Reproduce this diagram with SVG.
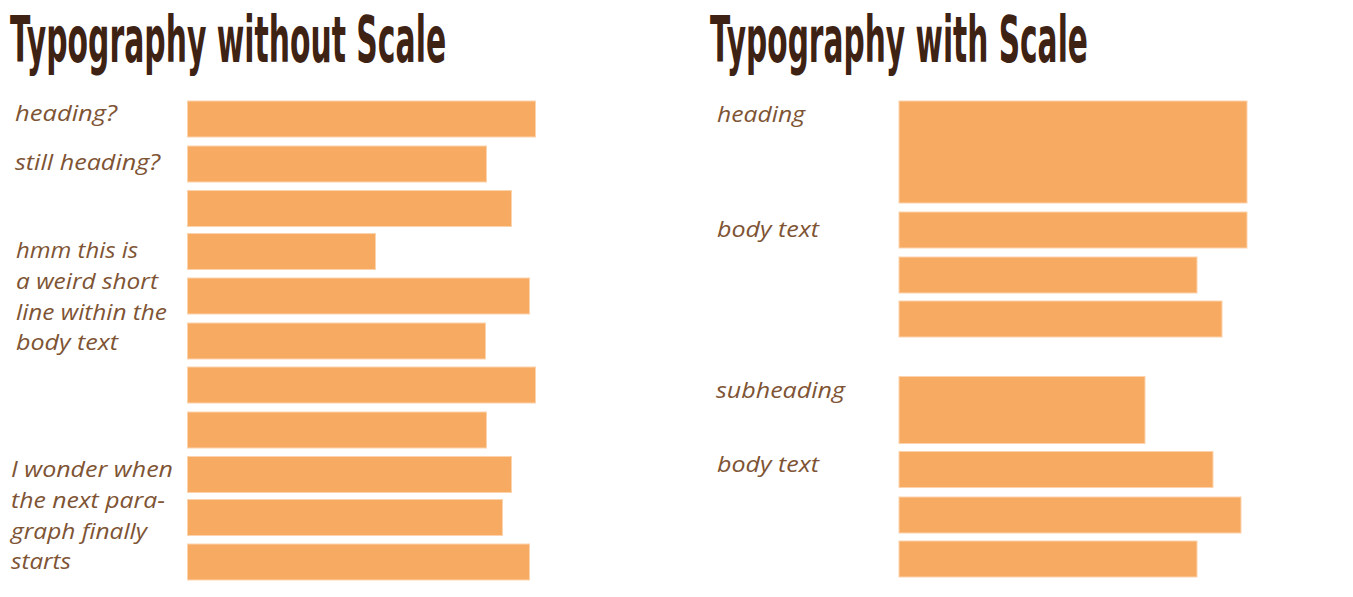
<svg xmlns="http://www.w3.org/2000/svg" width="1353" height="597" viewBox="0 0 1353 597">
<style>
.title{font-family:"DejaVu Sans","Liberation Sans",sans-serif;font-weight:bold;font-size:64px;fill:#3E2314}
.lbl{font-family:"Open Sans","Liberation Sans",sans-serif;font-style:italic;font-size:22px;fill:#7E5434}
.bar{fill:#F7AB62;stroke:#FBD3AC;stroke-width:1}
</style>
<rect width="1353" height="597" fill="#FFFFFF"/>
<g id="title-left"><text class="title" transform="translate(10,62) scale(0.462,1)" x="0" y="0" textLength="944" lengthAdjust="spacingAndGlyphs">Typography without Scale</text></g>
<g id="title-right"><text class="title" transform="translate(710,62) scale(0.462,1)" x="0" y="0" textLength="818" lengthAdjust="spacingAndGlyphs">Typography with Scale</text></g>

<g id="left-labels">
<g id="lbl-heading-q"><text class="lbl" x="15" y="121" textLength="102" lengthAdjust="spacingAndGlyphs">heading?</text></g>
<g id="lbl-still"><text class="lbl" x="15" y="170" textLength="145" lengthAdjust="spacingAndGlyphs">still heading?</text></g>
<g id="lbl-hmm">
<text class="lbl" x="16" y="258" textLength="122" lengthAdjust="spacingAndGlyphs">hmm this is</text>
<text class="lbl" x="16" y="289" textLength="142" lengthAdjust="spacingAndGlyphs">a weird short</text>
<text class="lbl" x="16" y="320" textLength="151" lengthAdjust="spacingAndGlyphs">line within the</text>
<text class="lbl" x="16" y="349.5" textLength="102" lengthAdjust="spacingAndGlyphs">body text</text>
</g>
<g id="lbl-wonder">
<text class="lbl" x="11" y="477" textLength="162" lengthAdjust="spacingAndGlyphs">I wonder when</text>
<text class="lbl" x="11" y="508" textLength="154" lengthAdjust="spacingAndGlyphs">the next para-</text>
<text class="lbl" x="11" y="538.5" textLength="136" lengthAdjust="spacingAndGlyphs">graph finally</text>
<text class="lbl" x="11" y="569" textLength="60" lengthAdjust="spacingAndGlyphs">starts</text>
</g>
</g>

<g id="left-bars">
<g id="lb1"><rect class="bar" x="187.5" y="101" width="348" height="36"/></g>
<g id="lb2"><rect class="bar" x="187.5" y="146" width="299" height="36"/></g>
<g id="lb3"><rect class="bar" x="187.5" y="190.5" width="324" height="36"/></g>
<g id="lb4"><rect class="bar" x="187.5" y="233.5" width="188" height="36"/></g>
<g id="lb5"><rect class="bar" x="187.5" y="278" width="342" height="36"/></g>
<g id="lb6"><rect class="bar" x="187.5" y="323" width="298" height="36"/></g>
<g id="lb7"><rect class="bar" x="187.5" y="367" width="348" height="36"/></g>
<g id="lb8"><rect class="bar" x="187.5" y="412" width="299" height="36"/></g>
<g id="lb9"><rect class="bar" x="187.5" y="456.5" width="324" height="36"/></g>
<g id="lb10"><rect class="bar" x="187.5" y="499.5" width="315" height="36"/></g>
<g id="lb11"><rect class="bar" x="187.5" y="544" width="342" height="36"/></g>
</g>

<g id="right-labels">
<g id="lbl-heading"><text class="lbl" x="717" y="121.5" textLength="88" lengthAdjust="spacingAndGlyphs">heading</text></g>
<g id="lbl-body1"><text class="lbl" x="717" y="236.5" textLength="102" lengthAdjust="spacingAndGlyphs">body text</text></g>
<g id="lbl-subheading"><text class="lbl" x="716" y="398" textLength="129" lengthAdjust="spacingAndGlyphs">subheading</text></g>
<g id="lbl-body2"><text class="lbl" x="717" y="471.5" textLength="102" lengthAdjust="spacingAndGlyphs">body text</text></g>
</g>

<g id="right-bars">
<g id="rb1"><rect class="bar" x="899" y="101" width="348" height="102"/></g>
<g id="rb2"><rect class="bar" x="899" y="212" width="348" height="36"/></g>
<g id="rb3"><rect class="bar" x="899" y="257" width="298" height="36"/></g>
<g id="rb4"><rect class="bar" x="899" y="301" width="323" height="36"/></g>
<g id="rb5"><rect class="bar" x="899" y="376.5" width="246" height="67"/></g>
<g id="rb6"><rect class="bar" x="899" y="451.5" width="314" height="36"/></g>
<g id="rb7"><rect class="bar" x="899" y="497" width="342" height="36"/></g>
<g id="rb8"><rect class="bar" x="899" y="541" width="298" height="36"/></g>
</g>
<g id="connectors"/>
</svg>
